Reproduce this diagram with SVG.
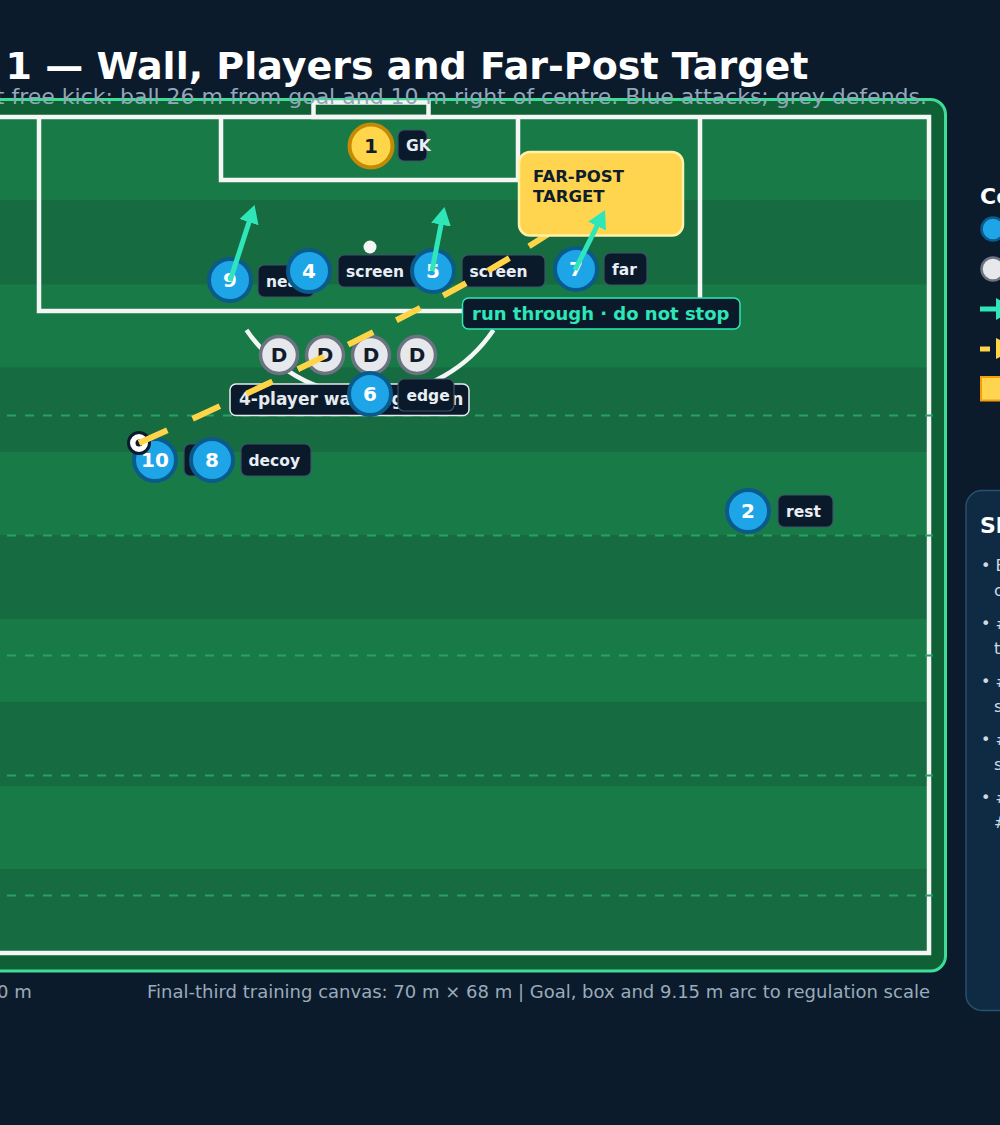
<svg xmlns="http://www.w3.org/2000/svg" width="1000" height="1125" viewBox="0 0 1000 1125">
<style>
.t{font-family:"DejaVu Sans","Verdana",sans-serif}
.lbl{fill:#0b1a2a;stroke:#3d5468;stroke-width:1.2}
.lt{font-family:"DejaVu Sans",sans-serif;font-weight:bold;font-size:15.5px;fill:#e8eef5}
.pl{fill:#1ea5e8;stroke:#0a5a8c;stroke-width:4}
.num{font-family:"DejaVu Sans",sans-serif;font-weight:bold;font-size:20px;fill:#ffffff;text-anchor:middle}
.df{fill:#e6e8ec;stroke:#6b7280;stroke-width:3.5}
.dt{font-family:"DejaVu Sans",sans-serif;font-weight:bold;font-size:20px;fill:#111c2b;text-anchor:middle}
.wl{fill:none;stroke:#f3f6f4;stroke-width:4.5}
.dash{stroke:#2aa163;stroke-width:2;stroke-dasharray:9 9}
.run{stroke:#2ee6b8;stroke-width:5;fill:none}
.li{font-family:"DejaVu Sans",sans-serif;font-size:16px;fill:#d0dae5}
</style>
<defs>
<marker id="ah" markerUnits="userSpaceOnUse" markerWidth="20" markerHeight="20" refX="13" refY="10" orient="auto">
<path d="M0,0 L18,10 L0,20 z" fill="#2ee6b8"/>
</marker>
</defs>
<rect x="0" y="0" width="1000" height="1125" fill="#0b1b2c"/>
<text class="t" x="5.5" y="79" font-size="38" font-weight="bold" fill="#ffffff">1 — Wall, Players and Far-Post Target</text>
<g id="pitch">
<rect x="-30" y="99.5" width="975.5" height="871.5" rx="15" fill="#106036" stroke="#3ddc97" stroke-width="3"/>
<rect x="-200" y="117" width="1129" height="83.6" fill="#187a47"/>
<rect x="-200" y="200.6" width="1129" height="83.6" fill="#166b40"/>
<rect x="-200" y="284.2" width="1129" height="83.6" fill="#187a47"/>
<rect x="-200" y="367.8" width="1129" height="83.6" fill="#166b40"/>
<rect x="-200" y="451.4" width="1129" height="83.6" fill="#187a47"/>
<rect x="-200" y="535" width="1129" height="83.6" fill="#166b40"/>
<rect x="-200" y="618.6" width="1129" height="83.6" fill="#187a47"/>
<rect x="-200" y="702.2" width="1129" height="83.6" fill="#166b40"/>
<rect x="-200" y="785.8" width="1129" height="83.6" fill="#187a47"/>
<rect x="-200" y="869.4" width="1129" height="83.6" fill="#166b40"/>
<rect class="wl" x="-200" y="117" width="1129" height="836"/>
<rect class="wl" x="313.5" y="102.5" width="115" height="14.5" stroke-width="4"/>
<path class="wl" d="M221,117 V180 H518 V117"/>
<path class="wl" d="M39,117 V311 H700 V117"/>
<circle cx="370" cy="247" r="6.5" fill="#f3f6f4"/>
<path class="wl" d="M246.5,330 A149,149 0 0 0 493.5,330" stroke-width="3.5"/>
<line class="dash" x1="7" y1="415.5" x2="933" y2="415.5"/>
<line class="dash" x1="7" y1="535.5" x2="933" y2="535.5"/>
<line class="dash" x1="7" y1="655.5" x2="933" y2="655.5"/>
<line class="dash" x1="7" y1="775.5" x2="933" y2="775.5"/>
<line class="dash" x1="7" y1="895.5" x2="933" y2="895.5"/>
</g>
<text class="t" x="927" y="104" font-size="22" fill="#93a7ba" text-anchor="end">t free kick: ball 26 m from goal and 10 m right of centre. Blue attacks; grey defends.</text>
<g id="wall-label">
<rect x="230" y="384" width="239" height="31.5" rx="6" fill="#0b1a2a" stroke="#e5ebf0" stroke-width="1.5"/>
<text class="t" x="239" y="404.5" font-size="17" font-weight="bold" fill="#e5ebf0">4-player wall aligned in</text>
</g>
<g id="d1"><circle class="df" cx="279" cy="355" r="18.5"/><text class="dt" x="279" y="362">D</text></g>
<g id="d2"><circle class="df" cx="325" cy="355" r="18.5"/><text class="dt" x="325" y="362">D</text></g>
<g id="d3"><circle class="df" cx="371" cy="355" r="18.5"/><text class="dt" x="371" y="362">D</text></g>
<g id="d4"><circle class="df" cx="417" cy="355" r="18.5"/><text class="dt" x="417" y="362">D</text></g>
<g id="p1">
<circle cx="371" cy="146" r="21.5" fill="#ffd54a" stroke="#c48a06" stroke-width="4"/>
<text class="num" x="371" y="153" style="fill:#0f1d2c">1</text>
<rect class="lbl" x="398" y="130" width="29" height="31" rx="6"/>
<text class="lt" x="406" y="151">GK</text>
</g>
<g id="p9">
<circle class="pl" cx="230" cy="280" r="21"/><text class="num" x="230" y="287">9</text>
<rect class="lbl" x="258" y="265" width="56" height="32" rx="6"/><text class="lt" x="266" y="286.5">near</text>
</g>
<g id="p4">
<circle class="pl" cx="309" cy="271" r="21"/><text class="num" x="309" y="278">4</text>
<rect class="lbl" x="338" y="255" width="83" height="32" rx="6"/><text class="lt" x="346" y="277">screen</text>
</g>
<g id="p5">
<circle class="pl" cx="433" cy="271" r="21"/><text class="num" x="433" y="278">5</text>
<rect class="lbl" x="462" y="255" width="83" height="32" rx="6"/><text class="lt" x="469.5" y="277">screen</text>
</g>
<g id="p7">
<circle class="pl" cx="576" cy="269" r="21"/><text class="num" x="576" y="276">7</text>
<rect class="lbl" x="604" y="253" width="43" height="32" rx="6"/><text class="lt" x="612" y="275">far</text>
</g>
<g id="p6">
<circle class="pl" cx="370" cy="394" r="21"/><text class="num" x="370" y="401">6</text>
<rect class="lbl" x="398" y="379" width="56" height="32" rx="6"/><text class="lt" x="406.5" y="400.5">edge</text>
</g>
<g id="p10">
<circle class="pl" cx="155" cy="460" r="21"/><text class="num" x="155" y="467">10</text>
<rect class="lbl" x="184" y="444" width="42" height="32" rx="6"/>
</g>
<g id="p8">
<circle class="pl" cx="212" cy="460" r="21"/><text class="num" x="212" y="467">8</text>
<rect class="lbl" x="241" y="444" width="70" height="32" rx="6"/><text class="lt" x="248.5" y="465.5">decoy</text>
</g>
<g id="p2">
<circle class="pl" cx="748" cy="511" r="21"/><text class="num" x="748" y="518">2</text>
<rect class="lbl" x="778" y="495" width="55" height="32" rx="6"/><text class="lt" x="786" y="516.5">rest</text>
</g>
<g id="ball">
<circle cx="139" cy="443" r="10.5" fill="#ffffff" stroke="#0b1b2b" stroke-width="3"/>
<circle cx="139" cy="443" r="3.5" fill="#0b1b2b"/>
</g>
<g id="run-label">
<rect x="462.5" y="298" width="277.5" height="31" rx="6" fill="#0b1a2a" stroke="#2ee6b8" stroke-width="1.5"/>
<text class="t" x="472" y="320" font-size="18" font-weight="bold" fill="#2ee6b8">run through · do not stop</text>
</g>
<g id="connectors">
<path d="M139,443 Q424,315 549,233.5" fill="none" stroke="#ffd447" stroke-width="6" stroke-dasharray="31 27.7 30 29.3 29 28 29 27 28 26 27 26 26 25 25 23 40 0"/>
</g>
<g id="target">
<rect x="519" y="152" width="164" height="83.5" rx="11" fill="#ffd54f" stroke="#fff1a8" stroke-width="2.5"/>
<text class="t" x="533" y="182" font-size="16.5" font-weight="bold" fill="#0f1d2c">FAR-POST</text>
<text class="t" x="533" y="202" font-size="16.5" font-weight="bold" fill="#0f1d2c">TARGET</text>
</g>
<g id="runs">
<line class="run" x1="230" y1="281" x2="253" y2="209.8" marker-end="url(#ah)"/>
<line class="run" x1="432" y1="271" x2="443.5" y2="211.9" marker-end="url(#ah)"/>
<line class="run" x1="575" y1="270" x2="602.8" y2="214.5" marker-end="url(#ah)"/>
</g>
<g id="footer">
<text class="t" x="-3" y="998" font-size="18" fill="#9aabbb">0 m</text>
<text class="t" x="930" y="998" font-size="18" fill="#9aabbb" text-anchor="end">Final-third training canvas: 70 m × 68 m | Goal, box and 9.15 m arc to regulation scale</text>
</g>
<g id="legend">
<text class="t" x="980" y="204" font-size="22" font-weight="bold" fill="#ffffff">Co</text>
<circle cx="993" cy="229" r="11.5" fill="#1ea5e8" stroke="#0a5a8c" stroke-width="2.5"/>
<circle cx="993" cy="269" r="11.5" fill="#e6e8ec" stroke="#6b7280" stroke-width="2.5"/>
<line x1="980" y1="309" x2="997" y2="309" stroke="#2ee6b8" stroke-width="5"/>
<polygon points="996,298 1016,309 996,320" fill="#2ee6b8"/>
<line x1="980" y1="349" x2="990" y2="349" stroke="#ffd447" stroke-width="5"/>
<polygon points="996,338 1016,348.5 996,359" fill="#ffd447"/>
<rect x="981" y="377" width="30" height="23.5" fill="#ffd54f" stroke="#f59e0b" stroke-width="2"/>
</g>
<g id="notes">
<rect x="966" y="490.5" width="80" height="520" rx="16" fill="#0f2b44" stroke="#28506e" stroke-width="1.5"/>
<text class="t" x="980" y="533" font-size="22" font-weight="bold" fill="#ffffff">Sh</text>
<text class="li" x="981" y="571">• E</text><text class="li" x="994" y="596">c</text>
<text class="li" x="981" y="629">• #</text><text class="li" x="994" y="654">t</text>
<text class="li" x="981" y="687">• #</text><text class="li" x="994" y="712">s</text>
<text class="li" x="981" y="745">• #</text><text class="li" x="994" y="770">s</text>
<text class="li" x="981" y="803">• #</text><text class="li" x="994" y="828">#</text>
</g>
</svg>
